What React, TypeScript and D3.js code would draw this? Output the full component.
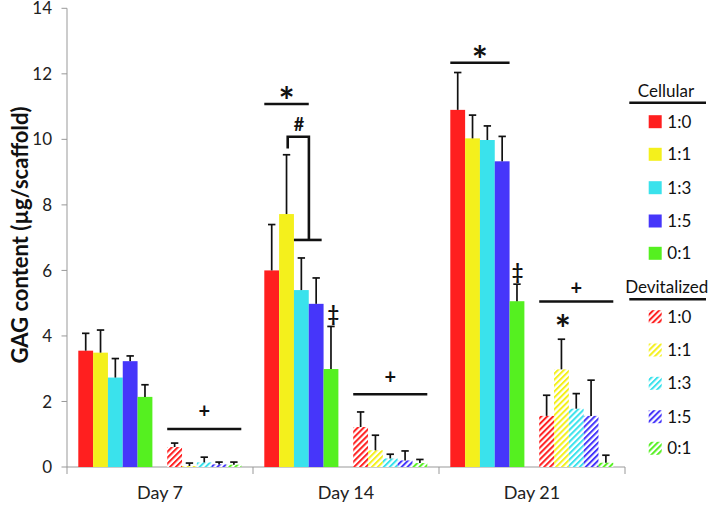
import React from "react";
import * as d3 from "d3";

const days = ["Day 7", "Day 14", "Day 21"];
const ratios = ["1:0", "1:1", "1:3", "1:5", "0:1"];
const colors = ["#ff1f1f", "#f4f01c", "#3ae2ec", "#4636fa", "#55f020"];
const yTicks = [0, 2, 4, 6, 8, 10, 12, 14];

// mean and upper error (mean + sd) per day, per ratio
const cellularMean = [
  [3.55, 3.49, 2.73, 3.23, 2.14],
  [6.0, 7.72, 5.4, 4.98, 2.99],
  [10.9, 10.03, 9.98, 9.33, 5.06],
];
const cellularErrTop = [
  [4.08, 4.18, 3.31, 3.39, 2.51],
  [7.4, 9.53, 6.38, 5.77, 4.29],
  [12.04, 10.74, 10.41, 10.09, 5.58],
];
const devitalMean = [
  [0.61, 0.03, 0.14, 0.08, 0.07],
  [1.22, 0.51, 0.26, 0.2, 0.12],
  [1.56, 2.98, 1.78, 1.56, 0.13],
];
const devitalErrTop = [
  [0.73, 0.12, 0.3, 0.15, 0.15],
  [1.68, 0.97, 0.39, 0.49, 0.23],
  [2.19, 3.9, 2.24, 2.65, 0.36],
];

// significance lines: day index, slot range, y value
const sigLines = [
  { day: 0, from: 6, to: 11, y: 1.16 },
  { day: 1, from: 6, to: 11, y: 2.22 },
  { day: 2, from: 6, to: 11, y: 5.05 },
  { day: 1, from: 0, to: 3, y: 11.08 },
  { day: 2, from: 0, to: 4, y: 12.34 },
];
// symbols: day, slot position, y value (baseline), text, size
const sigMarks = [
  { day: 0, slot: 8.5, y: 1.5, text: "+", size: 20 },
  { day: 1, slot: 8.5, y: 2.53, text: "+", size: 20 },
  { day: 2, slot: 8.5, y: 5.26, text: "+", size: 20 },
  { day: 1, slot: 1.5, y: 10.75, text: "*", size: 38 },
  { day: 2, slot: 2.0, y: 12.0, text: "*", size: 38 },
  { day: 2, slot: 7.6, y: 3.78, text: "*", size: 38 },
  { day: 1, slot: 2.34, y: 10.25, text: "#", size: 18 },
  { day: 1, slot: 4.65, y: 4.46, text: "‡", size: 20 },
  { day: 2, slot: 4.54, y: 5.75, text: "‡", size: 20 },
];
// bracket for "#" on Day 14: path points (slot, y)
const bracketPts: [number, number][] = [
  [1.58, 9.72],
  [1.58, 10.08],
  [3.01, 10.08],
  [3.01, 6.93],
];
const bracketFoot: [number, number, number] = [2.0, 3.87, 6.93];

const W = 714;
const H = 507;
const FONT = "Lato, 'Open Sans', sans-serif";

export default function App() {
  const x0 = d3.scaleBand<string>().domain(days).range([67, 625]).padding(0);
  const slots = d3.range(11).map(String);
  const x1 = d3
    .scaleBand<string>()
    .domain(slots)
    .range([11.3, x0.bandwidth() - 11.7])
    .padding(0);
  const bw = x1.bandwidth();
  const y = d3.scaleLinear().domain([0, 14]).range([467, 8.3]);
  const sx = (day: number, slot: number) => (x0(days[day]) as number) + 11.3 + slot * bw;

  const bars: any[] = [];
  days.forEach((d, di) => {
    ratios.forEach((r, ri) => {
      bars.push({ di, slot: ri, v: cellularMean[di][ri], e: cellularErrTop[di][ri], ci: ri, hatch: false });
      bars.push({ di, slot: ri + 6, v: devitalMean[di][ri], e: devitalErrTop[di][ri], ci: ri, hatch: true });
    });
  });

  const legX = 648.7;
  const legCellY = [121.7, 154.3, 187.7, 221, 253.3];
  const legDevY = [316.7, 350, 383.3, 416.7, 448.3];

  return (
    <svg width={W} height={H} style={{ position: "absolute", left: 0, top: 0, background: "#fff" }}>
      <defs>
        {colors.map((c, i) => (
          <pattern
            key={i}
            id={`hatch${i}`}
            patternUnits="userSpaceOnUse"
            width={4.2}
            height={4.2}
            patternTransform="rotate(45)"
          >
            <rect width={4.2} height={4.2} fill="#fff" />
            <rect x={0} y={0} width={2} height={4.2} fill={c} />
          </pattern>
        ))}
      </defs>
      <rect width={W} height={H} fill="#fff" />

      {/* y axis */}
      <line x1={67} x2={67} y1={y(0)} y2={y(14)} stroke="#999" strokeWidth={1} />
      {yTicks.map((t) => (
        <g key={t}>
          <line x1={61.5} x2={67} y1={y(t)} y2={y(t)} stroke="#999" />
          <text
            x={52}
            y={y(t)}
            dy="0.36em"
            textAnchor="end"
            fontFamily={FONT}
            fontSize={17}
            fill="#222"
          >
            {t}
          </text>
        </g>
      ))}
      <text
        transform={`translate(28,${235}) rotate(-90)`}
        textAnchor="middle"
        fontFamily={FONT}
        fontWeight="bold"
        fontSize={22}
        fill="#111"
      >
        GAG content (µg/scaffold)
      </text>

      {/* x axis */}
      <line x1={67} x2={625} y1={y(0)} y2={y(0)} stroke="#999" />
      {[...days.map((d) => x0(d) as number), 625].map((t, i) => (
        <line key={i} x1={t} x2={t} y1={y(0)} y2={y(0) + 7} stroke="#999" />
      ))}
      {days.map((d) => (
        <text
          key={d}
          x={(x0(d) as number) + x0.bandwidth() / 2}
          y={499}
          textAnchor="middle"
          fontFamily={FONT}
          fontSize={18}
          fill="#222"
        >
          {d}
        </text>
      ))}

      {/* bars */}
      {bars.map((b, i) => {
        const bx = sx(b.di, b.slot);
        return (
          <rect
            key={"b" + i}
            x={bx}
            y={y(b.v)}
            width={bw}
            height={y(0) - y(b.v)}
            fill={b.hatch ? `url(#hatch${b.ci})` : colors[b.ci]}
          />
        );
      })}
      {/* error bars */}
      {bars.map((b, i) => {
        const cx = sx(b.di, b.slot) + bw / 2;
        return (
          <g key={"e" + i} stroke="#111" strokeWidth={1.7}>
            <line x1={cx} x2={cx} y1={y(b.v)} y2={y(b.e)} />
            <line x1={cx - 3.7} x2={cx + 3.7} y1={y(b.e)} y2={y(b.e)} />
          </g>
        );
      })}

      {/* significance */}
      {sigLines.map((s, i) => (
        <line
          key={"s" + i}
          x1={sx(s.day, s.from)}
          x2={sx(s.day, s.to)}
          y1={y(s.y)}
          y2={y(s.y)}
          stroke="#111"
          strokeWidth={2.6}
        />
      ))}
      <path
        d={d3.line()(bracketPts.map(([s, v]) => [sx(1, s), y(v)]))!}
        fill="none"
        stroke="#111"
        strokeWidth={2.6}
      />
      <line
        x1={sx(1, bracketFoot[0])}
        x2={sx(1, bracketFoot[1])}
        y1={y(bracketFoot[2])}
        y2={y(bracketFoot[2])}
        stroke="#111"
        strokeWidth={2.6}
      />
      {sigMarks.map((m, i) => (
        <text
          key={"m" + i}
          x={sx(m.day, m.slot)}
          y={y(m.y)}
          textAnchor="middle"
          fontFamily={FONT}
          fontWeight="bold"
          fontSize={m.size}
          fill="#111"
        >
          {m.text}
        </text>
      ))}

      {/* legend */}
      <text x={666} y={97} textAnchor="middle" fontFamily={FONT} fontSize={17} fill="#111">
        Cellular
      </text>
      <line x1={629.3} x2={706} y1={102.7} y2={102.7} stroke="#111" strokeWidth={2.4} />
      {ratios.map((r, i) => (
        <g key={"lc" + i}>
          <rect x={legX} y={legCellY[i] - 6.5} width={13} height={13} fill={colors[i]} />
          <text x={667.3} y={legCellY[i]} dy="0.36em" fontFamily={FONT} fontSize={17} fill="#111">
            {r}
          </text>
        </g>
      ))}
      <text x={666.7} y={293} textAnchor="middle" fontFamily={FONT} fontSize={17} fill="#111">
        Devitalized
      </text>
      <line x1={629.3} x2={706} y1={299.3} y2={299.3} stroke="#111" strokeWidth={2.4} />
      {ratios.map((r, i) => (
        <g key={"ld" + i}>
          <rect x={legX} y={legDevY[i] - 6.5} width={13} height={13} fill={`url(#hatch${i})`} />
          <text x={667.3} y={legDevY[i]} dy="0.36em" fontFamily={FONT} fontSize={17} fill="#111">
            {r}
          </text>
        </g>
      ))}
    </svg>
  );
}
